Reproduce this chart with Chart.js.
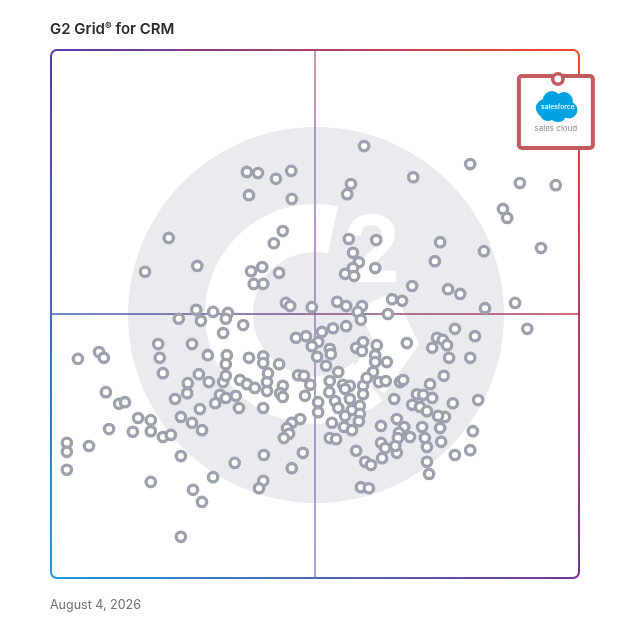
<!DOCTYPE html>
<html>
<head>
<meta charset="utf-8">
<title>G2 Grid for CRM</title>
<script src="https://cdn.jsdelivr.net/npm/chart.js@4.4.1/dist/chart.umd.min.js"></script>
<style>
	html, body { margin: 0; padding: 0; background: #fff; }
	#g2-wrap { position: relative; width: 628px; height: 628px; overflow: hidden; }
	#g2-grid { position: absolute; left: 0; top: 0; }
	.g2-title {
		position: absolute; left: 50px; top: 20px; margin: 0;
		font: 600 15px/18px Inter, 'Noto Sans', sans-serif; color: #2b2b2b; white-space: nowrap;
	}
	.g2-title .reg { font-size: 10px; position: relative; top: -4px; }
	.g2-date {
		position: absolute; left: 50px; top: 597px; margin: 0;
		font: 400 12.5px/15px Inter, 'Noto Sans', sans-serif; color: #707070; white-space: nowrap;
	}
</style>
</head>
<body>
<div id="g2-wrap">
	<canvas id="g2-grid" width="628" height="628"></canvas>
	<div class="g2-title">G2 Grid<span class="reg">®</span> for CRM</div>
	<div class="g2-date">August 4, 2026</div>
</div>
<script>
// scores (0 - 100 on both axes), same order in both arrays
const satisfaction = [
	59.3, 79.4, 68.6, 37.1, 39.2, 42.6, 45.5, 37.5, 45.6, 56.8,
	56.1, 88.8, 95.6, 85.6, 86.4, 22.3, 43.9, 42.2, 56.4, 61.6,
	73.7, 82.0, 92.8, 72.7, 17.8, 27.7, 37.9, 40.0, 43.2, 38.4,
	40.2, 57.2, 58.3, 57.2, 55.7, 57.4, 61.4, 68.4, 75.2, 77.5,
	82.2, 87.9, 44.5, 45.3, 49.4, 54.2, 55.9, 58.9, 58.1, 58.7,
	64.6, 66.5, 63.8, 27.5, 30.7, 33.5, 33.1, 24.2, 28.4, 36.4,
	32.6, 76.5, 80.3, 73.1, 74.2, 72.2, 75.0, 75.4, 79.4, 67.4,
	61.7, 59.1, 57.8, 58.9, 90.2, 53.4, 51.3, 55.9, 46.4, 48.3,
	50.6, 49.4, 52.8, 53.0, 50.4, 52.1, 20.3, 26.7, 20.6, 21.2,
	29.7, 33.3, 33.1, 37.5, 40.2, 40.2, 43.2, 61.4, 61.4, 63.6,
	61.0, 54.4, 28.0, 29.9, 25.9, 32.6, 33.1, 35.8, 37.1, 38.6,
	40.9, 41.1, 40.9, 43.9, 43.4, 43.9, 46.8, 47.9, 49.1, 48.1,
	52.8, 52.7, 55.3, 56.6, 55.7, 59.1, 59.8, 62.1, 63.4, 66.1,
	66.7, 71.8, 74.4, 59.1, 25.8, 23.5, 32.0, 33.1, 31.1, 35.0,
	35.6, 28.2, 40.2, 50.6, 50.6, 53.8, 54.4, 56.6, 57.0, 58.5,
	55.7, 58.5, 65.0, 69.3, 70.5, 72.2, 68.4, 69.9, 71.2, 76.1,
	80.9, 16.5, 18.9, 15.5, 18.9, 21.2, 22.7, 24.6, 26.7, 28.6,
	11.0, 3.0, 3.0, 7.2, 3.0, 12.9, 14.0, 10.4, 5.1, 9.1,
	10.0, 47.2, 45.6, 44.7, 45.1, 44.1, 53.2, 55.5, 57.0, 58.3,
	52.8, 54.0, 62.5, 65.5, 66.9, 65.9, 65.7, 68.0, 70.3, 70.8,
	71.2, 73.7, 74.6, 73.3, 73.9, 79.9, 79.4, 76.5, 71.2, 71.6,
	62.5, 63.3, 62.7, 65.5, 65.2, 57.8, 59.5, 60.6, 24.6, 34.8,
	40.3, 47.7, 45.6, 18.9, 30.7, 40.2, 39.4, 26.9, 28.6, 58.7,
	60.2, 24.6
];

const marketPresence = [
	81.8, 78.4, 75.9, 76.9, 76.7, 75.6, 77.1, 72.5, 71.8, 74.6,
	72.7, 74.8, 74.4, 69.9, 68.2, 64.4, 65.7, 63.4, 64.2, 64.0,
	63.6, 61.9, 62.5, 60.0, 58.0, 59.1, 58.1, 58.9, 57.8, 55.7,
	55.7, 61.6, 59.8, 58.7, 57.6, 57.2, 58.7, 55.3, 54.7, 53.8,
	51.1, 52.1, 52.1, 51.5, 51.3, 52.3, 51.5, 51.5, 50.4, 48.9,
	52.8, 52.5, 50.0, 50.8, 50.4, 50.2, 49.1, 49.1, 48.7, 47.9,
	46.4, 47.2, 45.8, 45.5, 45.1, 43.6, 44.1, 41.7, 41.7, 44.5,
	44.1, 44.7, 43.6, 43.0, 47.2, 47.3, 46.6, 47.7, 45.5, 45.8,
	44.7, 43.9, 43.4, 42.4, 41.9, 40.2, 44.3, 44.3, 41.7, 38.8,
	42.2, 42.2, 40.5, 41.7, 42.0, 40.7, 40.5, 42.2, 40.9, 40.9,
	39.0, 39.0, 38.6, 37.1, 36.9, 37.1, 38.3, 37.5, 36.7, 36.0,
	37.1, 38.8, 35.4, 36.4, 35.0, 34.3, 38.4, 38.3, 36.6, 34.5,
	37.3, 35.2, 36.6, 36.4, 35.8, 36.4, 37.9, 37.1, 37.3, 37.1,
	37.5, 36.7, 38.3, 34.8, 35.0, 33.9, 34.7, 34.1, 33.1, 34.5,
	32.2, 32.0, 32.2, 33.3, 31.4, 33.5, 32.2, 33.9, 31.8, 32.6,
	30.7, 31.1, 33.9, 34.8, 34.7, 34.1, 32.8, 32.4, 31.6, 33.1,
	33.7, 30.3, 29.9, 27.7, 27.8, 26.7, 27.1, 30.5, 29.4, 28.0,
	28.2, 25.6, 23.9, 25.0, 20.5, 33.0, 33.3, 35.2, 41.5, 42.8,
	41.7, 30.1, 29.4, 28.4, 27.3, 26.5, 29.4, 28.6, 28.0, 29.7,
	26.5, 26.3, 28.8, 30.1, 28.6, 27.5, 26.5, 26.7, 28.6, 26.5,
	24.8, 28.4, 30.5, 30.7, 25.8, 27.8, 24.2, 23.3, 22.0, 19.7,
	25.6, 24.6, 22.7, 23.7, 25.0, 24.1, 22.0, 21.4, 23.1, 21.8,
	23.3, 23.7, 20.8, 18.2, 19.1, 18.4, 17.0, 16.7, 14.4, 17.2,
	17.0, 7.8
];

// highlighted product
const featuredName = ['salesforce', 'sales cloud'];
const featuredScore = [96.0, 94.5];

// axis range and the quadrant split
const scoreRange = [0, 100];
const midScore = 50;

const pointColor = '#9ca1ac';
const featuredColor = '#c25b5e';

/**
 * Build the scatter points from the two score arrays.
 */
function buildPoints( xs, ys ) {
	return xs.map( function ( x, i ) {
		return { x: x, y: ys[i] };
	} );
}

/**
 * Big grey G2 badge behind the points.
 */
function drawWatermark( ctx, cx, cy ) {
	ctx.save();

	// disc
	ctx.fillStyle = '#e9ebef';
	ctx.beginPath();
	ctx.arc( cx + 1, cy + 1, 188, 0, Math.PI * 2 );
	ctx.fill();

	// the G ring
	ctx.strokeStyle = '#ffffff';
	ctx.lineWidth = 48;
	ctx.lineCap = 'butt';
	ctx.beginPath();
	ctx.arc( cx, cy, 86, -78 * Math.PI / 180, 52 * Math.PI / 180, true );
	ctx.stroke();

	// chevron end of the G
	ctx.lineWidth = 40;
	ctx.lineJoin = 'miter';
	ctx.beginPath();
	ctx.moveTo( cx + 53, cy + 68 );
	ctx.lineTo( cx + 81, cy + 28 );
	ctx.lineTo( cx + 61, cy - 14 );
	ctx.stroke();

	// the 2
	ctx.fillStyle = '#ffffff';
	ctx.font = "700 92px Inter, 'DejaVu Sans', sans-serif";
	ctx.textAlign = 'center';
	ctx.textBaseline = 'alphabetic';
	ctx.fillText( '2', cx + 57, cy - 32 );

	ctx.restore();
}

/**
 * Quadrant split lines.
 */
function drawQuadrants( ctx, area, cx, cy ) {
	ctx.save();
	ctx.lineWidth = 1.6;

	let g = ctx.createLinearGradient( 0, area.top, 0, area.bottom );
	g.addColorStop( 0, '#b07ab2' );
	g.addColorStop( 1, '#8a8bd5' );
	ctx.strokeStyle = g;
	ctx.beginPath();
	ctx.moveTo( cx, area.top );
	ctx.lineTo( cx, area.bottom );
	ctx.stroke();

	g = ctx.createLinearGradient( area.left, 0, area.right, 0 );
	g.addColorStop( 0, '#3e63b7' );
	g.addColorStop( 1, '#c43e55' );
	ctx.strokeStyle = g;
	ctx.beginPath();
	ctx.moveTo( area.left, cy );
	ctx.lineTo( area.right, cy );
	ctx.stroke();

	ctx.restore();
}

/**
 * Rounded frame, each side with its own gradient.
 */
function drawFrame( ctx, a ) {
	const r = 6;
	const tl = '#5a3ca8', tr = '#f4482c', bl = '#1f9ad6', br = '#7a3593';

	ctx.save();
	ctx.lineWidth = 2;

	function side( x1, y1, x2, y2, c1, c2 ) {
		const g = ctx.createLinearGradient( x1, y1, x2, y2 );
		g.addColorStop( 0, c1 );
		g.addColorStop( 1, c2 );
		ctx.strokeStyle = g;
		ctx.beginPath();
		ctx.moveTo( x1, y1 );
		ctx.lineTo( x2, y2 );
		ctx.stroke();
	}

	function corner( x, y, start, color ) {
		ctx.strokeStyle = color;
		ctx.beginPath();
		ctx.arc( x, y, r, start, start + Math.PI / 2 );
		ctx.stroke();
	}

	side( a.left + r, a.top, a.right - r, a.top, tl, tr );
	side( a.right, a.top + r, a.right, a.bottom - r, tr, br );
	side( a.left + r, a.bottom, a.right - r, a.bottom, bl, br );
	side( a.left, a.top + r, a.left, a.bottom - r, tl, bl );

	corner( a.left + r, a.top + r, Math.PI, tl );
	corner( a.right - r, a.top + r, -Math.PI / 2, tr );
	corner( a.right - r, a.bottom - r, 0, br );
	corner( a.left + r, a.bottom - r, Math.PI / 2, bl );

	ctx.restore();
}

/**
 * Callout card hanging from the featured point.
 */
function drawCallout( ctx, px, py ) {
	ctx.save();

	// card
	ctx.fillStyle = '#ffffff';
	ctx.strokeStyle = featuredColor;
	ctx.lineWidth = 4;
	ctx.beginPath();
	ctx.roundRect( px - 39, py - 3, 74, 72, 3 );
	ctx.fill();
	ctx.stroke();

	// cloud
	const cx = px - 1, cy = py + 28;
	const blobs = [[-12, 1, 9], [-5, -7, 9], [7, -6, 9], [12, 3, 8.5], [1, 6, 9], [-9, 6, 8]];

	ctx.fillStyle = '#00a1e0';
	blobs.forEach( function ( b ) {
		ctx.beginPath();
		ctx.arc( cx + b[0], cy + b[1], b[2], 0, Math.PI * 2 );
		ctx.fill();
	} );

	ctx.textAlign = 'center';
	ctx.textBaseline = 'middle';
	ctx.fillStyle = '#ffffff';
	ctx.font = "500 6.8px Inter, 'Noto Sans', sans-serif";
	ctx.fillText( featuredName[0], cx + 1, cy );

	ctx.fillStyle = '#8a8a8a';
	ctx.font = "400 8px Inter, 'Noto Sans', sans-serif";
	ctx.fillText( featuredName[1], px - 2, py + 50 );

	ctx.restore();
}

const g2Decor = {
	id: 'g2Decor',
	beforeDatasetsDraw( chart ) {
		const ctx = chart.ctx;
		const area = chart.chartArea;
		const cx = chart.scales.x.getPixelForValue( midScore );
		const cy = chart.scales.y.getPixelForValue( midScore );

		drawWatermark( ctx, cx, cy );
		drawQuadrants( ctx, area, cx, cy );
		drawFrame( ctx, area );

		// card sits under the featured point
		const fx = chart.scales.x.getPixelForValue( featuredScore[0] );
		const fy = chart.scales.y.getPixelForValue( featuredScore[1] );
		drawCallout( ctx, fx, fy );
	}
};

new Chart( document.getElementById( 'g2-grid' ), {
	type: 'scatter',
	data: {
		datasets: [
			{
				label: 'Products',
				data: buildPoints( satisfaction, marketPresence ),
				pointRadius: 4.7,
				borderWidth: 3.3,
				borderColor: pointColor,
				backgroundColor: '#ffffff',
				order: 2
			},
			{
				label: featuredName.join( ' ' ),
				data: [{ x: featuredScore[0], y: featuredScore[1] }],
				pointRadius: 5.2,
				borderWidth: 3.5,
				borderColor: featuredColor,
				backgroundColor: '#ffffff',
				order: 1
			}
		]
	},
	options: {
		responsive: false,
		animation: false,
		events: [],
		layout: {
			padding: { left: 51, top: 50, right: 49, bottom: 50 }
		},
		scales: {
			x: { type: 'linear', min: scoreRange[0], max: scoreRange[1], display: false },
			y: { type: 'linear', min: scoreRange[0], max: scoreRange[1], display: false }
		},
		plugins: {
			legend: { display: false },
			tooltip: { enabled: false }
		}
	},
	plugins: [g2Decor]
} );
</script>
</body>
</html>
